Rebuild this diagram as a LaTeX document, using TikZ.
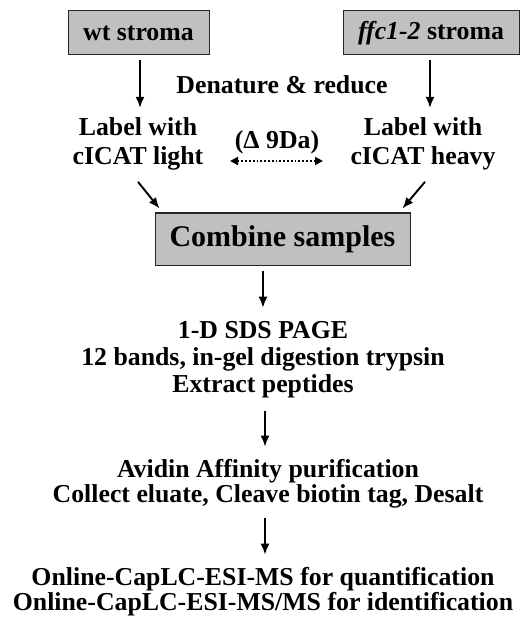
\documentclass[tikz,border=0pt]{standalone}
\usepackage{fontspec}
\setmainfont{Liberation Serif}
\usetikzlibrary{arrows.meta}
\definecolor{boxgray}{HTML}{C0C0C0}
\begin{document}
\begin{tikzpicture}[x=1pt,y=-1pt,
  every node/.style={font=\fontsize{25.8}{26}\selectfont\bfseries, inner sep=0pt},
  line/.style={anchor=base},
  graybox/.style={draw=black!85, line width=1pt, fill=boxgray},
  arr/.style={-{Latex[length=11pt,width=9pt]}, line width=1.9pt},
  dotarr/.style={{Triangle[length=8pt,width=8pt]}-{Triangle[length=8pt,width=8pt]}, line width=1.8pt, dotted}]
\useasboundingbox (0,0) rectangle (524,620);
\node[graybox, minimum width=141pt, minimum height=44pt] (wt) at (138.5,33) {wt stroma};
\node[graybox, minimum width=176pt, minimum height=44pt] (ffc) at (431,33) {\textit{ffc1-2} stroma};
\node[line] (den) at (282,94) {Denature \& reduce};
\node[line] (l1) at (138,136) {Label with};
\node[line] (l2) at (138,165) {cICAT light};
\node[line] (h1) at (423,136) {Label with};
\node[line] (h2) at (423,165) {cICAT heavy};
\node[line] (delta) at (277,149) {(Δ 9Da)};
\coordinate (dl) at (230,161);
\coordinate (dr) at (323,161);
\node[graybox, minimum width=255pt, minimum height=52pt, font=\fontsize{30}{32}\selectfont\bfseries] (comb) at (282.5,239) {Combine samples};
\node[line] (s1) at (263,338) {1-D SDS PAGE};
\node[line] (s2) at (263,365) {12 bands, in-gel digestion trypsin};
\node[line] (s3) at (263,392) {Extract peptides};
\node[line] (a1) at (268,477) {Avidin Affinity purification};
\node[line] (a2) at (268,502) {Collect eluate, Cleave biotin tag, Desalt};
\node[line] (o1) at (263,585) {Online-CapLC-ESI-MS for quantification};
\node[line] (o2) at (263,610) {Online-CapLC-ESI-MS/MS for identification};
\draw[arr, shorten <=5pt, shorten >=10pt] (wt.south -| 140,0) -- (l1.north -| 140,0);
\draw[arr, shorten <=5pt, shorten >=10pt] (ffc.south -| 430,0) -- (h1.north -| 430,0);
\draw[dotarr] (dl) -- (dr);
\draw[arr] ([yshift=-11pt]l2.south) -- ([xshift=5pt,yshift=4pt]comb.north west);
\draw[arr] ([xshift=2pt,yshift=-11pt]h2.south) -- ([xshift=-8pt,yshift=4pt]comb.north east);
\draw[arr, shorten <=5pt, shorten >=13pt] (comb.south -| s1) -- (s1.north);
\draw[arr, shorten <=13pt, shorten >=12pt] (s3.south -| 265,0) -- (a1.north -| 265,0);
\draw[arr, shorten <=10pt, shorten >=12pt] (a2.south -| 265,0) -- (o1.north -| 265,0);
\end{tikzpicture}
\end{document}
